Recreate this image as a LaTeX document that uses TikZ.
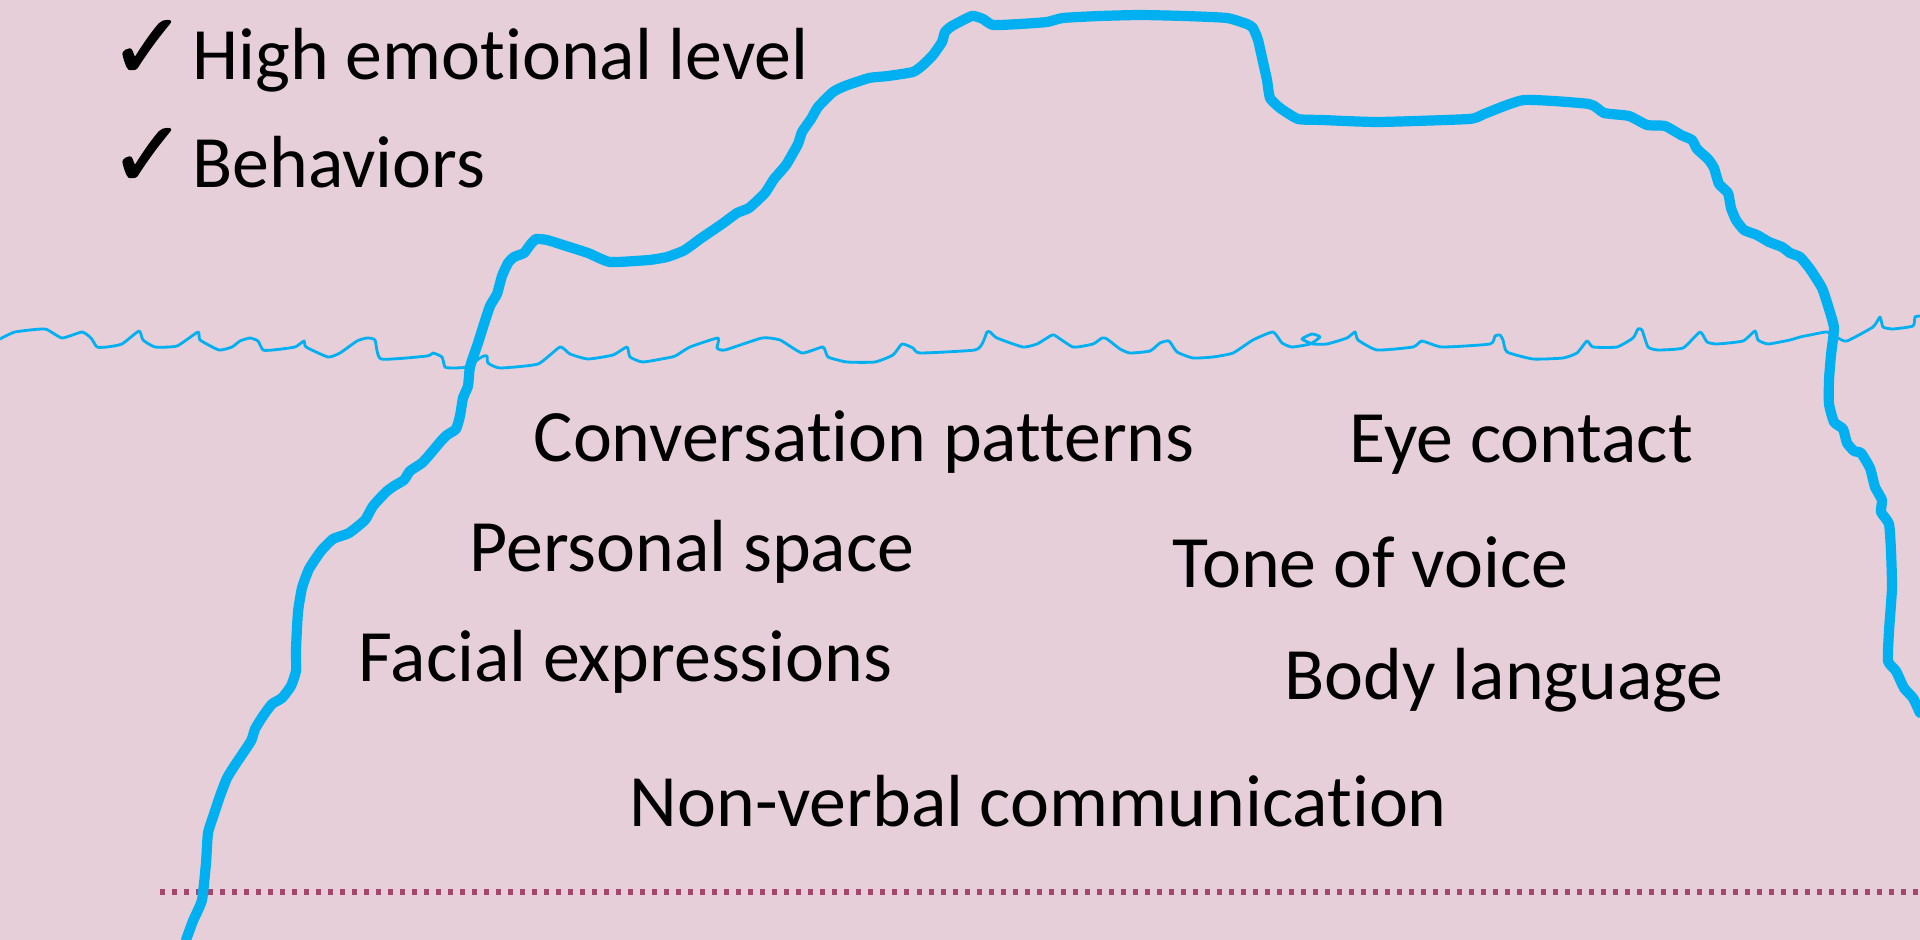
\documentclass[tikz,border=0pt]{standalone}
\usepackage{amsmath}
\usepackage{amssymb}
\usepackage{fontspec}
\setmainfont{Carlito}[Ligatures=NoCommon]
\newfontfamily\tickfont{DejaVu Sans}[FakeBold=1.6]
\usepackage{tikz}
\usetikzlibrary{positioning}

\definecolor{slide}{HTML}{E6CFD9}
\definecolor{tip}{HTML}{00B0F0}
\definecolor{floor}{HTML}{A5466F}

\begin{document}
\begin{tikzpicture}[x=0.01cm, y=-0.01cm, line join=round, line cap=round, font=\fontsize{21}{26}\selectfont]

    \tikzstyle{cue}=[inner sep=0pt, anchor=base west, text=black]
    \tikzstyle{tick}=[inner sep=0pt, anchor=base east, yshift=0.5pt, font=\tickfont\fontsize{26}{30}\selectfont]

    \fill[slide] (0,0) rectangle (1920,940);
    \clip (0,0) rectangle (1920,940);

    % above the water
    \node[cue]  (high)  at (192,80)  {High emotional level};
    \node[cue]  (behav) at (192,188) {Behaviors};
    \node[left=1.5pt of high.base west, tick]  (tick1) {✓};
    \node[left=1.5pt of behav.base west, tick] (tick2) {✓};

    % below the water
    \node[cue] (conv) at (533,462)  {Conversation patterns};
    \node[cue] (eye)  at (1349,463) {Eye contact};
    \node[cue] (pers) at (469,572)  {Personal space};
    \node[cue] (tone) at (1172,588) {Tone of voice};
    \node[cue] (face) at (358,682)  {Facial expressions};
    \node[cue] (body) at (1284,700) {Body language};
    \node[cue] (nvc)  at (629,827)  {Non-verbal communication};

    \draw[floor, line width=0.055cm, line cap=butt, dash pattern=on 0.05cm off 0.07cm]
        (160,892) -- (1920,892);

    % water line
    \draw[tip, line width=0.8pt] plot[smooth, tension=0.3] coordinates {
        (0,339) (15,332) (45,329) (62,338) (82,332) (91,338) (97,347) (107,347) (122,344)
        (139,331) (143,340) (155,347) (177,346) (198,332) (200,340) (219,350) (232,347)
        (240,341) (250,338) (258,341) (263,350) (273,350) (295,347) (304,341) (306,347)
        (328,357) (340,353) (357,341) (367,338) (375,340) (381,359) (427,356) (433,353)
        (442,357) (445,367) (453,368) (467,367) (480,358) (484,356) (487,356) (488,363)
        (500,368) (538,364) (560,347) (570,354) (588,359) (613,355) (627,347) (630,357)
        (643,362) (672,357) (677,355) (690,347) (718,338) (717,348) (725,350) (762,338)
        (780,340) (802,353) (823,347) (828,357) (847,362) (875,362) (893,355) (902,344)
        (913,348) (920,353) (975,350) (983,342) (987,332) (990,332) (997,338) (1023,347)
        (1037,344) (1047,338) (1054,335) (1073,347) (1093,344) (1102,338) (1107,339)
        (1120,349) (1130,353) (1150,351) (1160,343) (1169,341) (1177,352) (1193,358)
        (1213,357) (1233,353) (1253,340) (1273,332) (1282,343) (1292,347) (1310,344)
        (1320,337) (1312,334) (1302,339) (1313,344) (1327,344) (1347,338) (1355,332)
        (1358,340) (1377,350) (1413,347) (1422,341) (1442,347) (1490,344) (1495,336)
        (1500,335) (1503,340) (1507,352) (1533,359) (1563,358) (1577,353) (1587,341)
        (1593,347) (1617,347) (1633,338) (1638,329) (1642,330) (1648,347) (1658,350)
        (1683,348) (1700,332) (1707,342) (1717,344) (1743,341) (1755,331) (1758,340)
        (1768,344) (1790,340) (1800,337) (1810,335) (1827,332) (1838,338) (1847,341)
        (1873,327) (1880,317) (1883,327) (1893,329) (1913,326) (1915,317) (1920,316)};

    % iceberg outline
    \draw[tip, line width=2.9pt] plot[smooth, tension=0.3] coordinates {
        (186,940) (193,921) (202,900) (206,863) (208,833) (214,814) (220,796) (227,778)
        (235,765) (251,741) (255,729) (263,716) (272,704) (282,698) (291,686) (296,671)
        (296,649) (298,612) (302,588) (309,569) (321,551) (333,539) (349,533) (365,520)
        (373,506) (386,492) (394,486) (404,480) (410,471) (422,463) (431,453) (441,441)
        (447,435) (456,429) (460,416) (463,398) (468,386) (470,367) (478,343) (484,324)
        (490,306) (497,294) (502,276) (508,263) (514,257) (524,253) (530,245) (536,239)
        (547,240) (563,245) (588,253) (610,262) (649,260) (667,257) (683,251) (692,245)
        (700,239) (722,224) (737,213) (749,208) (765,193) (774,179) (786,165) (798,144)
        (802,132) (811,119) (818,107) (833,92) (845,86) (869,78) (888,76) (913,72)
        (923,65) (933,55) (942,42) (945,32) (952,26) (972,16) (983,19) (993,25)
        (1020,24) (1047,22) (1063,18) (1100,16) (1140,15) (1185,16) (1227,18) (1247,24)
        (1253,28) (1258,40) (1263,62) (1267,80) (1270,98) (1280,108) (1298,119) (1322,120)
        (1378,122) (1469,119) (1484,114) (1524,100) (1589,104) (1604,113) (1629,116)
        (1647,125) (1665,126) (1681,135) (1692,140) (1697,149) (1708,159) (1714,168)
        (1719,184) (1728,193) (1731,208) (1736,220) (1744,230) (1757,235) (1769,242)
        (1782,247) (1790,253) (1800,257) (1810,269) (1822,288) (1829,309) (1834,328)
        (1831,355) (1829,380) (1829,404) (1834,422) (1843,429) (1847,443) (1854,451)
        (1861,453) (1870,468) (1875,487) (1882,500) (1881,512) (1889,524) (1891,551)
        (1892,588) (1889,631) (1888,661) (1896,671) (1904,688) (1913,698) (1920,713)};
\end{tikzpicture}
\end{document}
